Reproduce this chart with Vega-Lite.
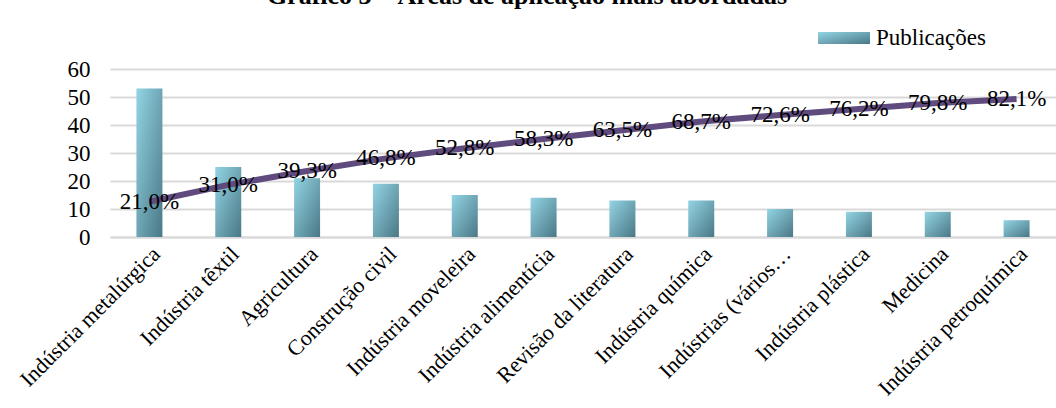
{
  "$schema": "https://vega.github.io/schema/vega-lite/v6.json",
  "width": 946,
  "height": 168,
  "autosize": {"type": "none"},
  "padding": {"left": 110, "top": 69, "right": 0, "bottom": 171},
  "title": {
    "text": "Gráfico 3 – Áreas de aplicação mais abordadas",
    "font": "Liberation Serif",
    "fontSize": 26,
    "fontWeight": "bold",
    "color": "black",
    "anchor": "start",
    "dx": 251,
    "dy": 23,
    "baseline": "alphabetic",
    "offset": 5
  },
  "config": {
    "locale": {"number": {"decimal": ",", "thousands": ".", "grouping": [3], "currency": ["R$ ", ""]}},
    "font": "Liberation Serif",
    "view": {"stroke": null}
  },
  "data": {
    "values": [
      {"area": "Indústria metalúrgica", "publicacoes": 53, "acumulado": 0.210},
      {"area": "Indústria têxtil", "publicacoes": 25, "acumulado": 0.310},
      {"area": "Agricultura", "publicacoes": 21, "acumulado": 0.393},
      {"area": "Construção civil", "publicacoes": 19, "acumulado": 0.468},
      {"area": "Indústria moveleira", "publicacoes": 15, "acumulado": 0.528},
      {"area": "Indústria alimentícia", "publicacoes": 14, "acumulado": 0.583},
      {"area": "Revisão da literatura", "publicacoes": 13, "acumulado": 0.635},
      {"area": "Indústria química", "publicacoes": 13, "acumulado": 0.687},
      {"area": "Indústrias (vários…", "publicacoes": 10, "acumulado": 0.726},
      {"area": "Indústria plástica", "publicacoes": 9, "acumulado": 0.762},
      {"area": "Medicina", "publicacoes": 9, "acumulado": 0.798},
      {"area": "Indústria petroquímica", "publicacoes": 6, "acumulado": 0.821}
    ]
  },
  "encoding": {
    "x": {
      "field": "area",
      "type": "nominal",
      "sort": null,
      "scale": {"paddingInner": 0, "paddingOuter": 0},
      "axis": {
        "title": null,
        "labelAngle": -45,
        "labelFontSize": 22,
        "labelColor": "black",
        "labelLimit": 400,
        "labelPadding": 6,
        "ticks": false,
        "domainColor": "#d9d9d9",
        "domainWidth": 2
      }
    }
  },
  "layer": [
    {
      "mark": {
        "type": "bar",
        "size": 26,
        "color": {
          "gradient": "linear",
          "x1": 0, "y1": 0, "x2": 1, "y2": 1,
          "stops": [
            {"offset": 0, "color": "#93d4e4"},
            {"offset": 1, "color": "#4a7886"}
          ]
        }
      },
      "encoding": {
        "y": {
          "field": "publicacoes",
          "type": "quantitative",
          "scale": {"domain": [0, 60]},
          "axis": {
            "title": null,
            "values": [0, 10, 20, 30, 40, 50, 60],
            "labelFontSize": 23,
            "labelColor": "black",
            "labelPadding": 20,
            "ticks": false,
            "domain": false,
            "gridColor": "#d9d9d9",
            "gridWidth": 2
          }
        },
        "opacity": {
          "datum": "Publicações",
          "type": "nominal",
          "scale": {"range": [1]},
          "legend": {
            "title": null,
            "orient": "none",
            "legendX": 708,
            "legendY": -57,
            "padding": 0,
            "symbolType": "M-1,-0.23H1V0.23H-1Z",
            "symbolSize": 2704,
            "symbolStrokeWidth": 0,
            "labelFontSize": 23,
            "labelColor": "black",
            "labelOffset": 6,
            "encode": {
              "symbols": {
                "update": {
                  "fill": {
                    "value": {
                      "gradient": "linear",
                      "x1": 0, "y1": 0, "x2": 1, "y2": 1,
                      "stops": [
                        {"offset": 0, "color": "#93d4e4"},
                        {"offset": 1, "color": "#4a7886"}
                      ]
                    }
                  },
                  "opacity": {"value": 1}
                }
              }
            }
          }
        }
      }
    },
    {
      "encoding": {
        "y": {
          "field": "acumulado",
          "type": "quantitative",
          "scale": {"domain": [0, 1]},
          "axis": null
        }
      },
      "layer": [
        {
          "mark": {"type": "line", "color": "#5f4b7e", "strokeWidth": 6, "strokeJoin": "round"}
        },
        {
          "mark": {"type": "text", "fontSize": 23, "color": "black", "align": "center", "baseline": "middle"},
          "encoding": {
            "text": {"field": "acumulado", "type": "quantitative", "format": ".1%"}
          }
        }
      ]
    }
  ],
  "resolve": {"scale": {"y": "independent"}}
}
